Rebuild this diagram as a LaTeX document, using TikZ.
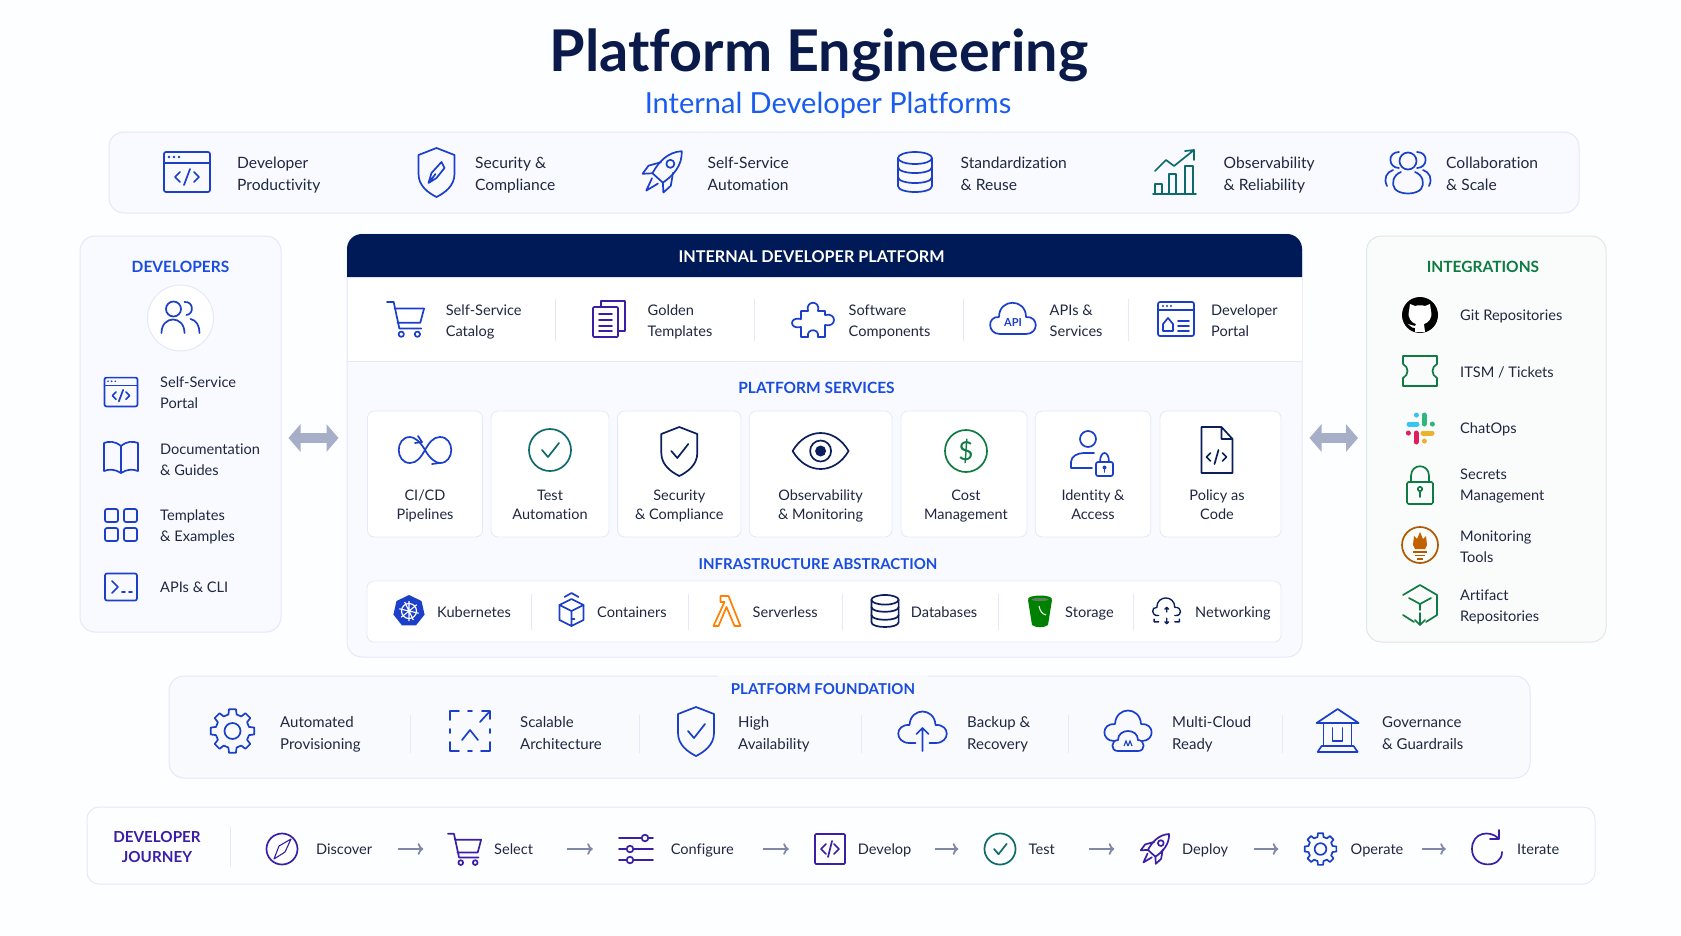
\documentclass[tikz,border=0pt]{standalone}
\usepackage{fontspec}
\setmainfont{Lato}[Ligatures=NoCommon]
\usetikzlibrary{arrows.meta,positioning}
\definecolor{navy}{HTML}{0B1F5C}
\definecolor{titlenavy}{HTML}{0A1A4A}
\definecolor{headnavy}{HTML}{001A57}
\definecolor{brand}{HTML}{1A4CE0}
\definecolor{subblue}{HTML}{1A5CF0}
\definecolor{ink}{HTML}{1F2840}
\definecolor{iconblue}{HTML}{1B3FC8}
\definecolor{teal}{HTML}{0F6B6B}
\definecolor{leaf}{HTML}{0F7A42}
\definecolor{indigo}{HTML}{3A1FA6}
\definecolor{rimline}{HTML}{E3E9F8}
\definecolor{bandfill}{HTML}{F8FAFF}
\definecolor{pagefill}{HTML}{FDFEFF}
\definecolor{linkgrey}{HTML}{A6AEC8}
\definecolor{stepgrey}{HTML}{8088A8}
\newcommand{\twol}[2]{\strut #1\\\strut #2}
\tikzset{
  icn/.style={draw=#1,line width=1.7pt,line cap=round,line join=round},
  pics/winic/.style={code={
    \draw[icn=#1,rounded corners=2pt] (-23,-20) rectangle (23,20);
    \draw[icn=#1] (-23,-9) -- (23,-9);
    \fill[#1] (-18,-15) circle (1.3) (-13,-15) circle (1.3) (-8,-15) circle (1.3);
    \draw[icn=#1] (-7,0) -- (-12,5) -- (-7,10) (7,0) -- (12,5) -- (7,10) (3,-3) -- (-3,13);
  }},
  pics/shieldic/.style={code={
    \draw[icn=#1] (0,-24) -- (18,-17) -- (18,2) .. controls (18,14) and (8,21) .. (0,25) .. controls (-8,21) and (-18,14) .. (-18,2) -- (-18,-17) -- cycle;
  }},
  pics/tickic/.style={code={
    \draw[icn=#1] (-8,0) -- (-2,7) -- (9,-7);
  }},
  pics/nibic/.style={code={
    \draw[icn=#1] (-8,11) -- (-5,1) -- (5,-10) -- (8,-4) -- (0,6) -- cycle (-8,11) -- (-1,2);
  }},
  pics/rocketic/.style={code={
    \begin{scope}[rotate=-42]
    \draw[icn=#1] (0,-28) .. controls (10,-18) and (10,-4) .. (7,8) -- (-7,8) .. controls (-10,-4) and (-10,-18) .. (0,-28) -- cycle;
    \draw[icn=#1] (0,-11) circle (4);
    \draw[icn=#1] (-8,-6) -- (-15,5) -- (-14,15) -- (-7,8) (8,-6) -- (15,5) -- (14,15) -- (7,8);
    \draw[icn=#1] (-4,12) -- (0,25) -- (4,12);
    \end{scope}
  }},
  pics/dbic/.style={code={
    \draw[icn=#1] (0,-14) ellipse [x radius=17,y radius=6];
    \draw[icn=#1] (-17,-14) -- (-17,14) .. controls (-17,22) and (17,22) .. (17,14) -- (17,-14);
    \draw[icn=#1] (-17,-5) .. controls (-17,3) and (17,3) .. (17,-5);
    \draw[icn=#1] (-17,5) .. controls (-17,13) and (17,13) .. (17,5);
  }},
  pics/chartic/.style={code={
    \draw[icn=#1] (-21,22) rectangle (-14,12) (-7,22) rectangle (0,2) (9,22) rectangle (17,-6);
    \draw[icn=#1] (-23,22) -- (20,22);
    \draw[icn=#1] (-21,-1) -- (-10,-12) -- (-2,-6) -- (18,-22) (9,-21) -- (18,-22) -- (18,-12);
  }},
  pics/peopleic/.style={code={
    \draw[icn=#1] (0,-11) circle (8.5);
    \draw[icn=#1] (-9,-4) .. controls (-20,-4) and (-21,-20) .. (-9,-20) (9,-4) .. controls (20,-4) and (21,-20) .. (9,-20);
    \draw[icn=#1] (-7,0) .. controls (-15,3) and (-17,12) .. (-13,17) .. controls (-8,23) and (8,23) .. (13,17) .. controls (17,12) and (15,3) .. (7,0);
    \draw[icn=#1] (-21,14) .. controls (-25,6) and (-21,0) .. (-15,-2) (21,14) .. controls (25,6) and (21,0) .. (15,-2);
  }},
  pics/teamic/.style={code={
    \draw[icn=#1] (-7,-9) circle (7.5);
    \draw[icn=#1] (-19,15) .. controls (-19,-3) and (4,-3) .. (4,15);
    \draw[icn=#1] (4,-16) .. controls (13,-17) and (14,-4) .. (6,-3);
    \draw[icn=#1] (10,1) .. controls (16,2) and (19,8) .. (19,15);
  }},
  pics/bookic/.style={code={
    \draw[icn=#1] (0,-12) .. controls (-6,-17) and (-12,-17) .. (-17,-15) -- (-17,13) .. controls (-12,11) and (-6,11) .. (0,15) .. controls (6,11) and (12,11) .. (17,13) -- (17,-15) .. controls (12,-17) and (6,-17) .. (0,-12) -- (0,15);
  }},
  pics/gridic/.style={code={
    \draw[icn=#1,rounded corners=2pt] (-16,-16) rectangle (-3,-3) (3,-16) rectangle (16,-3) (-16,3) rectangle (-3,16) (3,3) rectangle (16,16);
  }},
  pics/termic/.style={code={
    \draw[icn=#1,rounded corners=2pt] (-16,-13.5) rectangle (16,13.5);
    \draw[icn=#1] (-9,-6) -- (-3,0) -- (-9,6) (1,5) -- (4,5) (8,5) -- (11,5);
  }},
  pics/cartic/.style={code={
    \draw[icn=#1] (-20,-18) -- (-13,-18) -- (-7,10) -- (16,10) (-12,-11) -- (19,-11) -- (15,4) -- (-9,4);
    \draw[icn=#1] (-5,16) circle (2.8) (12,16) circle (2.8);
  }},
  pics/docsic/.style={code={
    \draw[icn=#1,rounded corners=1pt] (-16,-12) rectangle (9,18);
    \draw[icn=#1] (-8,-13) -- (-8,-18) -- (16,-18) -- (16,12) -- (10,12);
    \draw[icn=#1] (-10,-5) -- (3,-5) (-10,1) -- (3,1) (-10,7) -- (3,7) (-10,12) -- (3,12);
  }},
  pics/puzzleic/.style={code={
    \draw[icn=#1] (-12,-8) -- (-5,-8) .. controls (-8,-19) and (8,-19) .. (5,-8) -- (12,-8) -- (12,-4) .. controls (24,-7) and (24,9) .. (12,6) -- (12,18) -- (5,18) .. controls (7,9) and (-7,9) .. (-5,18) -- (-12,18) -- (-12,8) .. controls (-24,11) and (-24,-3) .. (-12,0) -- cycle;
  }},
  pics/cloudic/.style={code={
    \draw[icn=#1] (-13,15) .. controls (-26,15) and (-26,-3) .. (-14,-2) .. controls (-14,-21) and (13,-21) .. (13,-2) .. controls (26,-3) and (26,15) .. (13,15) -- cycle;
  }},
  pics/portalic/.style={code={
    \draw[icn=#1,rounded corners=2pt] (-18,-17) rectangle (18,17);
    \draw[icn=#1] (-18,-9) -- (18,-9);
    \fill[#1] (-13,-13) circle (1.1) (-9,-13) circle (1.1) (-5,-13) circle (1.1);
    \draw[icn=#1] (-13,5) -- (-8,-1) -- (-3,5) -- (-3,12) -- (-13,12) -- cycle;
    \draw[icn=#1] (2,2) -- (13,2) (2,7) -- (13,7) (2,12) -- (13,12);
  }},
  pics/cicdic/.style={code={
    \draw[icn=#1] (0,0) .. controls (-5,-9) and (-11,-13) .. (-15,-13) .. controls (-30,-13) and (-30,13) .. (-15,13) .. controls (-8,13) and (-4,7) .. (0,0) .. controls (4,-7) and (8,-13) .. (15,-13) .. controls (30,-13) and (30,13) .. (15,13) .. controls (11,13) and (5,9) .. (0,0);
    \draw[icn=#1] (-7,-14) -- (-3,-8) -- (-10,-7) (7,14) -- (14,13);
  }},
  pics/ringic/.style={code={
    \draw[icn=#1] (0,0) circle (21);
  }},
  pics/eyeic/.style={code={
    \draw[icn=#1] (-28,0) .. controls (-14,-24) and (14,-24) .. (28,0) .. controls (14,24) and (-14,24) .. (-28,0) -- cycle;
    \draw[icn=#1] (0,0) circle (10.5);
    \fill[#1] (0,0) circle (5.5);
  }},
  pics/idic/.style={code={
    \draw[icn=#1] (-4,-14) circle (8);
    \draw[icn=#1] (0,15) -- (-21,15) -- (-21,9) .. controls (-21,3) and (-14,0) .. (-8,0) -- (2,0);
    \draw[icn=#1,rounded corners=2pt] (4,9) rectangle (21,23);
    \draw[icn=#1] (8,9) .. controls (8,-3) and (17,-3) .. (17,9);
    \fill[#1] (12.5,14.5) circle (2);
    \draw[icn=#1] (12.5,15) -- (12.5,19);
  }},
  pics/policyic/.style={code={
    \draw[icn=#1] (-15,-24) -- (5,-24) -- (16,-12) -- (16,22) -- (-15,22) -- cycle (5,-24) -- (5,-12) -- (16,-12);
    \draw[icn=#1] (-6,2) -- (-10,6) -- (-6,10) (6,2) -- (10,6) -- (6,10) (2,-1) -- (-2,13);
  }},
  pics/kubeic/.style={code={
    \fill[#1] (-90:16) -- (-38.6:16) -- (12.9:16) -- (64.3:16) -- (115.7:16) -- (167.1:16) -- (218.6:16) -- cycle;
    \draw[white,line width=1.2pt] (0,0) circle (7.5);
    \draw[white,line width=1.1pt] (-90:10) -- (90:10) (-38.6:10) -- (141.4:10) (12.9:10) -- (192.9:10) (64.3:10) -- (244.3:10);
  }},
  pics/boxic/.style={code={
    \draw[icn=#1] (-12,-6) -- (0,-12) -- (12,-6) -- (0,0) -- cycle;
    \draw[icn=#1] (-12,-6) -- (-12,9) -- (0,15) -- (12,9) -- (12,-6) (0,0) -- (0,15) (0,8) -- (3,8);
    \draw[icn=#1] (-7,-14) -- (0,-18) -- (7,-14);
  }},
  pics/lambdaic/.style={code={
    \draw[icn=#1] (-7,-15) -- (1,-15) -- (13,15) -- (7,15) -- (-1,-4) -- (-9,15) -- (-14,15) -- (-3,-9) -- (-7,-9) -- cycle;
  }},
  pics/bucketic/.style={code={
    \fill[#1] (-12,-11) -- (-8,14) .. controls (-4,17) and (4,17) .. (8,14) -- (12,-11) -- cycle;
    \fill[#1] (0,-12) ellipse [x radius=12,y radius=3.5];
    \draw[white,line width=1pt] (-1,-5) .. controls (0,0) and (2,3) .. (6,4);
    \fill[white!70!#1] (0,-11.5) ellipse [x radius=8.5,y radius=1.6];
  }},
  pics/netic/.style={code={
    \draw[#1,line width=1.4pt,line cap=round,line join=round] (-9,5) .. controls (-18,6) and (-17,-5) .. (-11,-4) .. controls (-11,-18) and (9,-18) .. (9,-4) .. controls (17,-5) and (18,6) .. (9,5);
    \draw[#1,line width=1.4pt,line cap=round,line join=round] (-14,9) -- (-14,12) -- (-9,12) (14,9) -- (14,12) -- (9,12) (0,-4) -- (0,1) (-2,-2) -- (0,-4) -- (2,-2) (0,8) -- (0,14) (-2,12) -- (0,14) -- (2,12);
  }},
  pics/gearic/.style={code={
    \draw[icn=#1] (-14:17) -- (-9:22) -- (9:22) -- (14:17) -- (31:17) -- (36:22) -- (54:22) -- (59:17) -- (76:17) -- (81:22) -- (99:22) -- (104:17) -- (121:17) -- (126:22) -- (144:22) -- (149:17) -- (166:17) -- (171:22) -- (189:22) -- (194:17) -- (211:17) -- (216:22) -- (234:22) -- (239:17) -- (256:17) -- (261:22) -- (279:22) -- (284:17) -- (301:17) -- (306:22) -- (324:22) -- (329:17) -- cycle;
    \draw[icn=#1] (0,0) circle (8);
  }},
  pics/scaleic/.style={code={
    \draw[icn=#1] (-20,-11) -- (-20,-20) -- (-11,-20) (-20,11) -- (-20,20) -- (-11,20) (11,20) -- (20,20) -- (20,11);
    \draw[icn=#1] (-2,-20) -- (2,-20) (-2,20) -- (2,20) (-20,-2) -- (-20,2) (20,-2) -- (20,2);
    \draw[icn=#1] (10,-9) -- (20,-20) (12,-20) -- (20,-20) -- (20,-12) (-8,9) -- (0,-1) -- (8,9);
  }},
  pics/cloudupic/.style={code={
    \draw[icn=#1] (-7,12) -- (-13,12) .. controls (-28,12) and (-28,-7) .. (-13,-6) .. controls (-12,-24) and (12,-24) .. (13,-6) .. controls (28,-7) and (28,12) .. (13,12) -- (7,12);
    \draw[icn=#1] (0,20) -- (0,-3) (-6,3) -- (0,-3) -- (6,3);
  }},
  pics/multiic/.style={code={
    \draw[icn=#1] (-14,10) .. controls (-27,10) and (-27,-8) .. (-13,-7) .. controls (-12,-25) and (12,-25) .. (13,-7) .. controls (27,-8) and (27,10) .. (14,10);
    \draw[icn=#1] (-10,20) .. controls (-18,20) and (-17,9) .. (-10,9) .. controls (-10,-3) and (10,-3) .. (10,9) .. controls (17,9) and (18,20) .. (10,20) -- cycle;
    \draw[#1,line width=1.1pt] (-4,15) -- (-2,10) -- (0,15) (0,15) -- (2,10) -- (4,15);
  }},
  pics/bankic/.style={code={
    \draw[icn=#1] (0,-22) -- (-21,-8) -- (21,-8) -- cycle;
    \draw[icn=#1] (-14,-8) -- (-14,15) (14,-8) -- (14,15) (-5,-3) -- (-5,10) -- (5,10) -- (5,-3);
    \draw[icn=#1] (-16,15) -- (16,15) (-20,21) -- (20,21) -- (20,20) (-20,21) -- (-16,15) (20,21) -- (16,15);
  }},
  pics/compassic/.style={code={
    \draw[icn=#1] (0,0) circle (15.5);
    \draw[#1,line width=1.1pt,line join=round] (9,-10) -- (3,3) -- (-8,10) -- (-3,-3) -- cycle;
  }},
  pics/slideric/.style={code={
    \draw[icn=#1] (-17,-11) -- (17,-11) (-17,0) -- (17,0) (-17,11) -- (17,11);
    \draw[icn=#1,fill=pagefill] (9,-11) circle (3.3) (-6,0) circle (3.3) (-6,11) circle (3.3);
  }},
  pics/codeic/.style={code={
    \draw[icn=#1,rounded corners=1pt] (-15,-15) rectangle (15,15);
    \draw[icn=#1] (-4,-5) -- (-9,0) -- (-4,5) (4,-5) -- (9,0) -- (4,5) (2,-8) -- (-2,8);
  }},
  pics/iterateic/.style={code={
    \draw[icn=#1] (11,-11) .. controls (3,-19) and (-15,-17) .. (-15,0) .. controls (-15,20) and (15,20) .. (15,3);
    \draw[icn=#1] (12,-19) -- (12,-10) -- (3,-10);
  }},
  pics/gitic/.style={code={
    \fill[#1] (0,0) circle (18);
    \fill[white] (-10,-11) -- (-5,-9) .. controls (-2,-10) and (2,-10) .. (5,-9) -- (10,-11) -- (11,-4) .. controls (13,3) and (8,8) .. (4,9) -- (5,17) -- (-5,17) -- (-5,13) .. controls (-9,13) and (-10,10) .. (-12,9) .. controls (-10,9) and (-8,11) .. (-5,11) -- (-4,9) .. controls (-8,8) and (-13,3) .. (-11,-4) -- cycle;
  }},
  pics/ticketic/.style={code={
    \draw[icn=#1] (-17,-15) -- (17,-15) -- (17,-7) .. controls (11,-4) and (11,4) .. (17,7) -- (17,15) -- (-17,15) -- (-17,7) .. controls (-11,4) and (-11,-4) .. (-17,-7) -- cycle;
  }},
  pics/slackic/.style={code={
    \draw[line width=5pt,line cap=round,draw={rgb,255:red,54;green,197;blue,240}] (-11,-4) -- (-3,-4) (-4,-13) -- (-4,-12.9);
    \draw[line width=5pt,line cap=round,draw={rgb,255:red,46;green,182;blue,125}] (4,-13) -- (4,-4) (12,-4) -- (12,-3.9);
    \draw[line width=5pt,line cap=round,draw={rgb,255:red,224;green,30;blue,90}] (-4,5) -- (-4,14) (-12,5) -- (-12,5.1);
    \draw[line width=5pt,line cap=round,draw={rgb,255:red,236;green,178;blue,46}] (3,5) -- (12,5) (4,13) -- (4,13.1);
  }},
  pics/lockic/.style={code={
    \draw[icn=#1,rounded corners=1.5pt] (-13,-3) rectangle (13,19);
    \draw[icn=#1] (-9,-3) -- (-9,-9) .. controls (-9,-22) and (9,-22) .. (9,-9) -- (9,-3);
    \draw[icn=#1] (0,4) circle (2.2) (0,7) -- (0,12);
  }},
  pics/promic/.style={code={
    \draw[icn=#1] (0,0) circle (18);
    \fill[#1!80!orange] (0,-13) -- (3,-6) -- (6,-9) -- (7,0) -- (5,4) -- (-5,4) -- (-7,0) -- (-6,-9) -- (-3,-6) -- cycle;
    \draw[#1,line width=1.7pt] (-7,7) -- (7,7) (-5,10.5) -- (5,10.5) (-3,14) -- (3,14);
  }},
  pics/cubeic/.style={code={
    \draw[icn=#1] (-17,-10) -- (0,-20) -- (17,-10) -- (17,10) -- (6,17) (-6,17) -- (-17,10) -- cycle;
    \draw[icn=#1] (-11,-7) -- (0,-1) -- (11,-7) (0,-1) -- (0,5) (0,8) -- (0,20) (-5,15) -- (0,20) -- (5,15);
  }},
}
\begin{document}
\begin{tikzpicture}[x=1pt,y=-1pt]
\tikzstyle{every node}+=[inner sep=0pt]
\tikzstyle{panel}=[draw=rimline,line width=1pt,fill=bandfill,rounded corners=15pt]
\tikzstyle{card}=[draw=rimline,line width=.8pt,fill=white,rounded corners=7pt]
\tikzstyle{lbl}=[anchor=west,align=left,text=ink,yshift=-1.5pt,font=\fontsize{15.6}{22.5}\selectfont]
\tikzstyle{lblrow}=[lbl,font=\fontsize{14.6}{21}\selectfont]
\tikzstyle{lblfound}=[lbl,font=\fontsize{15}{22}\selectfont]
\tikzstyle{lblcard}=[text=ink,align=center,yshift=-1.5pt,font=\fontsize{14.5}{19}\selectfont]
\tikzstyle{lblone}=[anchor=west,align=left,text=ink,text height=11pt,text depth=0pt,font=\fontsize{14.6}{19}\selectfont]
\tikzstyle{sect}=[text=brand,font=\fontsize{15.5}{20}\selectfont\bfseries]
\tikzstyle{sepline}=[draw=rimline,line width=.9pt]
\tikzstyle{bigarrow}=[draw=linkgrey,line width=10pt,{Triangle[length=12pt,width=27pt]}-{Triangle[length=12pt,width=27pt]}]
\tikzstyle{steparrow}=[draw=stepgrey,line width=1.8pt,->,shorten >=26pt,shorten <=26pt]
\useasboundingbox (0,0) rectangle (1681,935);
\fill [pagefill] (0,0) rectangle (1681,935);
\node [text=titlenavy,font=\fontsize{57.5}{60}\selectfont\bfseries] (maintitle) at (819,55) {Platform Engineering};
\node [text=subblue,font=\fontsize{29}{32}\selectfont] (subtitle) at (828,105) {Internal Developer Platforms};
\node [panel,minimum width=1470pt,minimum height=81pt] (goalband) at (844,172.5) {};
\pic at (187,172) {winic=iconblue};
\node [lbl] (goal1) at (237,173.5) {\twol{Developer}{Productivity}};
\pic at (436.5,172) {shieldic=iconblue};
\pic at (436.5,172) {nibic=iconblue};
\node [lbl] (goal2) at (475,173.5) {\twol{Security \&}{Compliance}};
\pic at (663,172) {rocketic=iconblue};
\node [lbl] (goal3) at (707.5,173.5) {\twol{Self-Service}{Automation}};
\pic at (915,172) {dbic=iconblue};
\node [lbl] (goal4) at (960.5,173.5) {\twol{Standardization}{\& Reuse}};
\pic at (1176,172) {chartic=teal};
\node [lbl] (goal5) at (1223.5,173.5) {\twol{Observability}{\& Reliability}};
\pic at (1408,172) {peopleic=iconblue};
\node [lbl] (goal6) at (1446,173.5) {\twol{Collaboration}{\& Scale}};
\node [panel,minimum width=201pt,minimum height=396pt] (devpanel) at (180.5,434) {};
\node [sect] (devtitle) at (180.5,267) {DEVELOPERS};
\node [circle,draw=rimline,line width=1pt,fill=white,minimum size=66pt] (devring) at (180.5,318) {};
\pic at (180.5,318) {teamic=iconblue};
\pic [scale=.72] at (121,392) {winic=iconblue};
\node [lblrow] (dev1) at (160,392.5) {\twol{Self-Service}{Portal}};
\pic at (121,458) {bookic=iconblue};
\node [lblrow] (dev2) at (160,459) {\twol{Documentation}{\& Guides}};
\pic at (121,525) {gridic=iconblue};
\node [lblrow] (dev3) at (160,525) {\twol{Templates}{\& Examples}};
\pic at (121,587) {termic=iconblue};
\node [lblone] (dev4) at (160,587) {APIs \& CLI};
\node [panel,minimum width=955pt,minimum height=423pt] (idp) at (824.5,445.5) {};
\fill [white] (347.5,277) rectangle (1301.5,361);
\fill [headnavy] (347,277) [rounded corners=15pt] -- (347,234) -- (1302,234) [sharp corners] -- (1302,277) -- cycle;
\node [text=white,font=\fontsize{16.2}{20}\selectfont\bfseries] (idptitle) at (811.5,257) {INTERNAL DEVELOPER PLATFORM};
\draw [sepline] (347,361.5) -- (1302,361.5);
\pic [scale=.95] at (406,319) {cartic=iconblue};
\node [lblrow] (cat1) at (445.6,320.5) {\twol{Self-Service}{Catalog}};
\draw [sepline] (555,299) -- (555,341);
\pic at (609,319) {docsic=indigo};
\node [lblrow] (cat2) at (647.5,320.5) {\twol{Golden}{Templates}};
\draw [sepline] (754,299) -- (754,341);
\pic at (813,319) {puzzleic=iconblue};
\node [lblrow] (cat3) at (848.5,320.5) {\twol{Software}{Components}};
\draw [sepline] (963,299) -- (963,341);
\pic at (1013,319) {cloudic=iconblue};
\node [text=iconblue,font=\fontsize{11}{12}\selectfont\bfseries] (apimark) at (1013,323) {API};
\node [lblrow] (cat4) at (1049.5,320.5) {\twol{APIs \&}{Services}};
\draw [sepline] (1128.7,299) -- (1128.7,341);
\pic at (1176,319) {portalic=iconblue};
\node [lblrow] (cat5) at (1211,320.5) {\twol{Developer}{Portal}};
\node [sect] (svctitle) at (816.5,388) {PLATFORM SERVICES};
\node [card,minimum width=115pt,minimum height=126pt] (svc1) at (425,474) {};
\pic at (425,450) {cicdic=iconblue};
\node [lblcard] (svc1t) at (425,505) {\twol{CI/CD}{Pipelines}};
\node [card,minimum width=118pt,minimum height=126pt] (svc2) at (550,474) {};
\pic at (550,450) {ringic=teal};
\pic at (550,450) {tickic=teal};
\node [lblcard] (svc2t) at (550,505) {\twol{Test}{Automation}};
\node [card,minimum width=123.4pt,minimum height=126pt] (svc3) at (679.3,474) {};
\pic at (679.3,451) {shieldic=navy};
\pic at (679.3,451) {tickic=navy};
\node [lblcard] (svc3t) at (679.3,505) {\twol{Security}{\& Compliance}};
\node [card,minimum width=142.7pt,minimum height=126pt] (svc4) at (820.6,474) {};
\pic at (820.6,451) {eyeic=navy};
\node [lblcard] (svc4t) at (820.6,505) {\twol{Observability}{\& Monitoring}};
\node [card,minimum width=126pt,minimum height=126pt] (svc5) at (964,474) {};
\pic at (966,451) {ringic=leaf};
\node [text=leaf,font=\fontsize{26}{28}\selectfont] (costmark) at (966,451) {\$};
\node [lblcard] (svc5t) at (966,505) {\twol{Cost}{Management}};
\node [card,minimum width=115.5pt,minimum height=126pt] (svc6) at (1093,474) {};
\pic at (1092,453) {idic=iconblue};
\node [lblcard] (svc6t) at (1093,505) {\twol{Identity \&}{Access}};
\node [card,minimum width=121pt,minimum height=126pt] (svc7) at (1220.5,474) {};
\pic at (1216.5,451) {policyic=navy};
\node [lblcard] (svc7t) at (1217,505) {\twol{Policy as}{Code}};
\node [sect,font=\fontsize{15}{20}\selectfont\bfseries] (infratitle) at (818,564) {INFRASTRUCTURE ABSTRACTION};
\node [card,minimum width=914pt,minimum height=61pt] (infra) at (824,611.5) {};
\pic at (409,611) {kubeic=iconblue};
\node [lblone] (inf1) at (437,611.7) {Kubernetes};
\draw [sepline] (531,594) -- (531,630);
\pic at (571.5,611) {boxic=iconblue};
\node [lblone] (inf2) at (597,611.7) {Containers};
\draw [sepline] (688,594) -- (688,630);
\pic at (727.5,611) {lambdaic=orange};
\node [lblone] (inf3) at (752.5,611.7) {Serverless};
\draw [sepline] (842,594) -- (842,630);
\pic [scale=.8] at (885,611) {dbic=navy};
\node [lblone] (inf4) at (910.7,611.7) {Databases};
\draw [sepline] (998,594) -- (998,630);
\pic at (1040,611) {bucketic={green!50!black}};
\node [lblone] (inf5) at (1065,611.7) {Storage};
\draw [sepline] (1133.5,594) -- (1133.5,630);
\pic [scale=.9] at (1166.7,611) {netic=navy};
\node [lblone] (inf6) at (1195,611.7) {Networking};
\node [panel,minimum width=1361pt,minimum height=102pt,fill=bandfill!80!rimline!60!white] (found) at (849.5,727) {};
\fill [bandfill] (718,674.5) rectangle (928,678);
\node [sect,font=\fontsize{15}{20}\selectfont\bfseries] (foundtitle) at (823,689) {PLATFORM FOUNDATION};
\pic at (232.5,731) {gearic=iconblue};
\node [lblfound] (fnd1) at (280,733) {\twol{Automated}{Provisioning}};
\draw [sepline] (410,715) -- (410,753);
\pic at (470,731) {scaleic=iconblue};
\node [lblfound] (fnd2) at (520,733) {\twol{Scalable}{Architecture}};
\draw [sepline] (639,715) -- (639,753);
\pic at (696,731) {shieldic=iconblue};
\pic at (696,731) {tickic=iconblue};
\node [lblfound] (fnd3) at (738,733) {\twol{High}{Availability}};
\draw [sepline] (861.4,715) -- (861.4,753);
\pic at (922.5,731) {cloudupic=iconblue};
\node [lblfound] (fnd4) at (967,733) {\twol{Backup \&}{Recovery}};
\draw [sepline] (1068,715) -- (1068,753);
\pic at (1128,731) {multiic=iconblue};
\node [lblfound] (fnd5) at (1172,733) {\twol{Multi-Cloud}{Ready}};
\draw [sepline] (1282,715) -- (1282,753);
\pic at (1337.6,731) {bankic=iconblue};
\node [lblfound] (fnd6) at (1382,733) {\twol{Governance}{\& Guardrails}};
\node [panel,minimum width=1508pt,minimum height=77pt,fill=pagefill,rounded corners=12pt] (journey) at (841,845.5) {};
\node [sect,text=indigo,align=center,font=\fontsize{15.2}{20}\selectfont\bfseries] (jtitle) at (157,847) {DEVELOPER\\JOURNEY};
\draw [sepline] (230,827) -- (230,867);
\pic at (282,849) {compassic=indigo};
\node [lblone,text width=56pt] (jt1) at (316,849) {Discover};
\node [minimum width=31pt,minimum height=33pt] (ji2) at (465,849) {};
\pic [scale=.85] at (ji2) {cartic=indigo};
\node [lblone,text width=47pt] (jt2) at (494,849) {Select};
\node [minimum width=34pt,minimum height=30pt] (ji3) at (636,849) {};
\pic at (ji3) {slideric=indigo};
\node [lblone,text width=66.4pt] (jt3) at (670.6,849) {Configure};
\node [minimum width=30pt,minimum height=30pt] (ji4) at (830,849) {};
\pic at (ji4) {codeic=indigo};
\node [lblone,text width=52pt] (jt4) at (857.7,849) {Develop};
\node [minimum width=31pt,minimum height=31pt] (ji5) at (1000,849) {};
\pic [scale=.74] at (ji5) {ringic=teal};
\pic [scale=.74] at (ji5) {tickic=teal};
\node [lblone,text width=34.5pt] (jt5) at (1028.5,849) {Test};
\node [minimum width=30pt,minimum height=32pt] (ji6) at (1155.5,849) {};
\pic [scale=.72] at (ji6) {rocketic=indigo};
\node [lblone,text width=46pt] (jt6) at (1182,849) {Deploy};
\node [minimum width=32pt,minimum height=32pt] (ji7) at (1320.5,849) {};
\pic [scale=.73] at (ji7) {gearic=iconblue};
\node [lblone,text width=53pt] (jt7) at (1350.5,849) {Operate};
\node [minimum width=30pt,minimum height=30pt] (ji8) at (1487,849) {};
\pic at (ji8) {iterateic=indigo};
\node [lblone] (jt8) at (1517,849) {Iterate};
\draw [steparrow] (jt1) -- (ji2);
\draw [steparrow] (jt2) -- (ji3);
\draw [steparrow] (jt3) -- (ji4);
\draw [steparrow,shorten <=25pt] (jt4) -- (ji5);
\draw [steparrow] (jt5) -- (ji6);
\draw [steparrow] (jt6) -- (ji7);
\draw [steparrow,shorten <=18.5pt] (jt7) -- (ji8);
\node [panel,minimum width=239.5pt,minimum height=406pt,draw=leaf!15!white,fill=leaf!2!white] (intpanel) at (1486.25,439) {};
\node [sect,text=leaf] (inttitle) at (1483,267) {INTEGRATIONS};
\pic at (1420,315) {gitic=black};
\node [lblone] (int1) at (1460,315) {Git Repositories};
\pic at (1420,371) {ticketic=leaf};
\node [lblone] (int2) at (1460,372) {ITSM / Tickets};
\pic at (1420,428) {slackic};
\node [lblone] (int3) at (1460,428) {ChatOps};
\pic at (1420,485) {lockic=leaf};
\node [lblrow] (int4) at (1460,484) {\twol{Secrets}{Management}};
\pic at (1420,545) {promic={orange!70!black}};
\node [lblrow] (int5) at (1460,546) {\twol{Monitoring}{Tools}};
\pic at (1420,605) {cubeic=leaf};
\node [lblrow] (int6) at (1460,605.5) {\twol{Artifact}{Repositories}};
\coordinate (linkrow) at (0,438);
\draw [bigarrow,shorten <=7pt,shorten >=8pt] (devpanel.east |- linkrow) -- (idp.west |- linkrow);
\draw [bigarrow,shorten <=7pt,shorten >=8pt] (idp.east |- linkrow) -- (intpanel.west |- linkrow);
\end{tikzpicture}
\end{document}
